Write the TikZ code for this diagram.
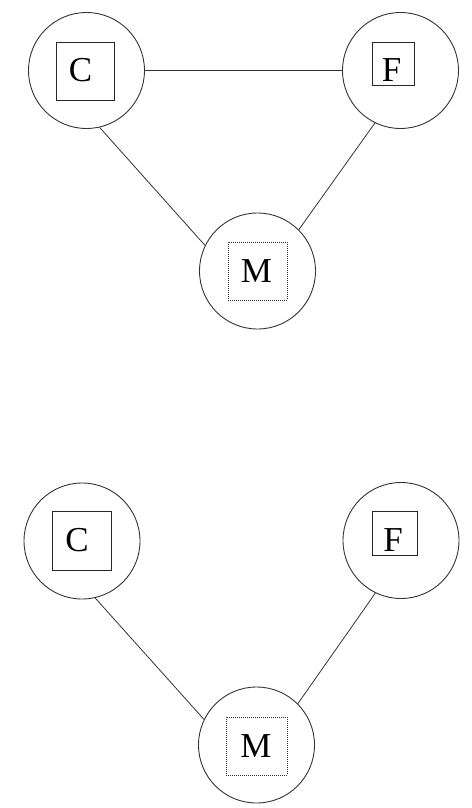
\documentclass[tikz,border=0pt]{standalone}
\usepackage{fontspec}
\setmainfont{Liberation Serif}
\begin{document}
\begin{tikzpicture}[x=1pt,y=-1pt,
  circ/.style={draw=black!80,line width=0.9pt,circle,minimum size=116pt,inner sep=0pt},
  sq/.style={draw=black!85,line width=0.8pt,rectangle,inner sep=0pt},
  dsq/.style={draw=black!80,line width=0.7pt,dash pattern=on 0.9pt off 1.1pt,rectangle,inner sep=0pt},
  lbl/.style={inner sep=0pt,font=\fontsize{35}{40}\selectfont},
  edge/.style={draw=black!80,line width=0.8pt}]
\useasboundingbox (0,0) rectangle (471,808);
% top graph
\node[circ] (C1) at (86.5,70.5) {};
\node[circ] (F1) at (400.5,70.5) {};
\node[circ] (M1) at (257.5,271) {};
\node[sq,minimum width=58pt,minimum height=58pt] (C1b) at (85,71) {};
\node[sq,minimum width=42pt,minimum height=43pt] (F1b) at (393,63.5) {};
\node[dsq,minimum width=59pt,minimum height=58pt] (M1b) at (257.5,271) {};
\node[lbl] (C1t) at (80.5,70) {C};
\node[lbl] (F1t) at (391.5,70) {F};
\node[lbl] (M1t) at (256.5,271.5) {M};
\draw[edge] (C1) -- (F1);
\draw[edge] (C1.-77) -- (M1.154);
\draw[edge] (F1.-116) -- (M1.45);
% bottom graph
\node[circ] (C2) at (82,541) {};
\node[circ] (F2) at (401,540.5) {};
\node[circ] (M2) at (256.5,745) {};
\node[sq,minimum width=59pt,minimum height=59pt] (C2b) at (81.5,540.5) {};
\node[sq,minimum width=45pt,minimum height=44pt] (F2b) at (394.5,533) {};
\node[dsq,minimum width=61pt,minimum height=58pt] (M2b) at (256.5,746) {};
\node[lbl] (C2t) at (77,540) {C};
\node[lbl] (F2t) at (393,540) {F};
\node[lbl] (M2t) at (256,746.5) {M};
\draw[edge] (C2.-77) -- (M2.154);
\draw[edge] (F2.-116) -- (M2.45);
\end{tikzpicture}
\end{document}
